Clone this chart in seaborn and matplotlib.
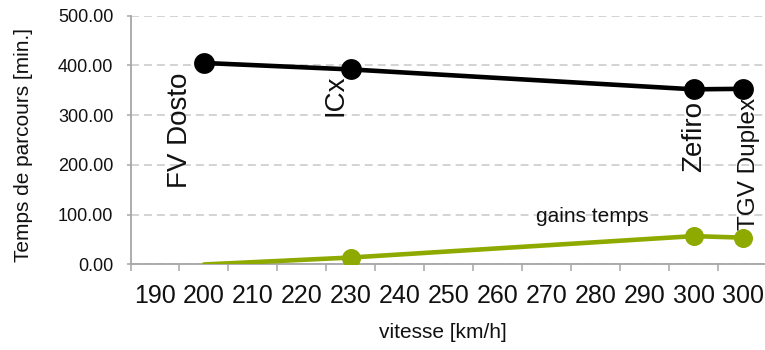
import matplotlib
matplotlib.use("Agg")
import matplotlib.pyplot as plt
import seaborn as sns
import pandas as pd
from matplotlib.ticker import FixedLocator, NullFormatter

# Speed categories on the horizontal axis
categories = ["190", "200", "210", "220", "230", "240", "250",
              "260", "270", "280", "290", "300", "300"]

# Trains, the speed category each one falls in, and the travel times
trains = ["FV Dosto", "ICx", "Zefiro", "TGV Duplex"]
train_category = [1, 4, 11, 12]
temps_parcours = [405, 392, 352, 353]
gains_temps = [0, 14, 57, 54]

df = pd.DataFrame({
    "pos": train_category,
    "train": trains,
    "temps": temps_parcours,
    "gain": gains_temps,
})

sns.set_theme(style="white")
plt.rcParams["font.family"] = ["Liberation Sans", "DejaVu Sans"]

BLACK = "#000000"
GREEN = "#8EAA00"
AXIS_GREY = "#A6A6A6"
GRID_GREY = "#C8C8C8"

fig = plt.figure(figsize=(7.65, 3.5), dpi=100)
ax = fig.add_axes([0.1706, 0.2443, 0.832, 0.7109])

# Travel time series
sns.lineplot(data=df, x="pos", y="temps", ax=ax, color=BLACK,
             linewidth=3.3, marker="o", markersize=15,
             markeredgewidth=0, zorder=4)

# Time gain series (first point has no marker)
sns.lineplot(data=df, x="pos", y="gain", ax=ax, color=GREEN,
             linewidth=3.3, marker="o", markersize=13.7,
             markeredgewidth=0, markevery=[1, 2, 3], zorder=3)

ax.set_xlim(-0.5, len(categories) - 0.5)
ax.set_ylim(0, 500)

# Category axis: labels centred on categories, tick marks on boundaries
ax.xaxis.set_major_locator(FixedLocator(range(len(categories))))
ax.set_xticklabels(categories)
ax.xaxis.set_minor_locator(FixedLocator([i - 0.5 for i in range(len(categories) + 1)]))
ax.xaxis.set_minor_formatter(NullFormatter())
ax.tick_params(axis="x", which="major", length=0, pad=14, labelsize=18,
               labelcolor="#111111")
ax.tick_params(axis="x", which="minor", bottom=True, length=5.2,
               width=1.1, color=AXIS_GREY)

yticks = [0, 100, 200, 300, 400, 500]
ax.set_yticks(yticks)
ax.set_yticklabels([f"{v:.2f}" for v in yticks])
ax.tick_params(axis="y", which="major", left=True, length=3, width=1.1,
               color=AXIS_GREY, pad=9.4, labelsize=13, labelcolor="#111111")

ax.yaxis.grid(True, color=GRID_GREY, linewidth=1.1, linestyle=(0, (5.2, 3.3)))
ax.xaxis.grid(False)
ax.set_axisbelow(True)

for side in ("top", "right"):
    ax.spines[side].set_visible(False)
for side in ("left", "bottom"):
    ax.spines[side].set_color(AXIS_GREY)
    ax.spines[side].set_linewidth(1.3)

ax.set_xlabel("vitesse [km/h]", fontsize=15, color="#111111")
ax.set_ylabel("Temps de parcours [min.]", fontsize=15, color="#111111")
ax.xaxis.set_label_coords(0.491, -0.235)
ax.yaxis.set_label_coords(-0.153, 0.48)

# Train names written vertically next to each point
label_offsets = [(-16.9, -48.2), (-11.3, -18.5), (0.6, -33.8), (4.8, -54.0)]
label_sizes = [20, 20, 20, 17.5]
for x, y, name, off, fs in zip(df["pos"], df["temps"], df["train"],
                               label_offsets, label_sizes):
    ax.annotate(name, (x, y), xytext=off, textcoords="offset points",
                rotation=90, ha="center", va="center", fontsize=fs,
                color="#111111", zorder=5)

# Series name for the gain curve
ax.annotate("gains temps", (df["pos"].iloc[2], df["gain"].iloc[2]),
            xytext=(-72.7, 14.4), textcoords="offset points",
            ha="center", va="center", fontsize=15, color="#111111")

fig.savefig("out.png", dpi=100)
